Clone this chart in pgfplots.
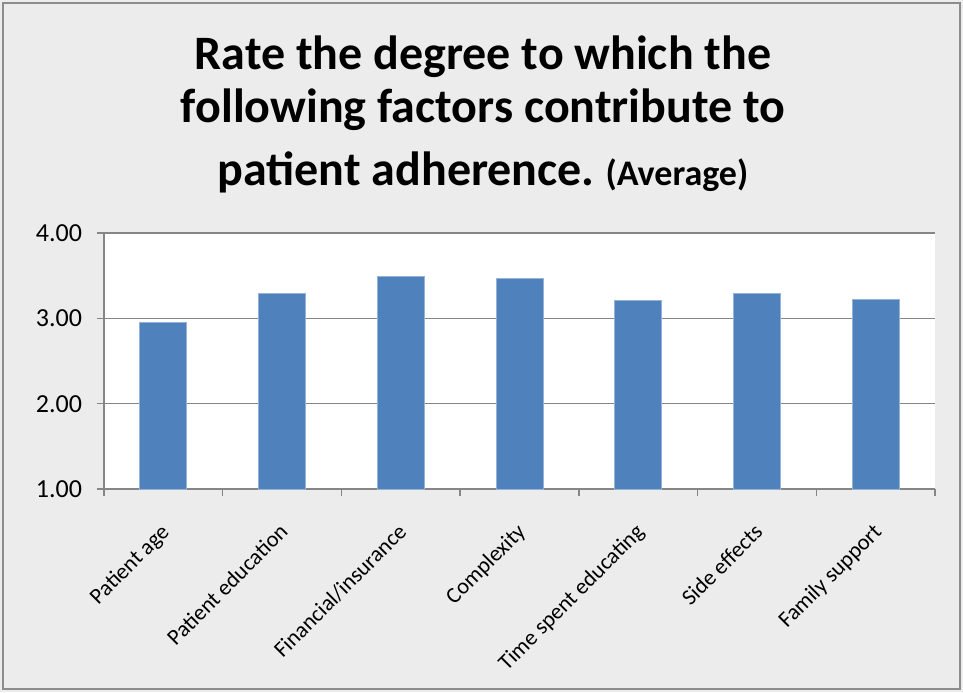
\documentclass[border=0pt]{standalone}
\usepackage{pgfplots}
\pgfplotsset{compat=1.18}
\usepackage{fontspec}
\setmainfont{Carlito}
\frenchspacing
\definecolor{barblue}{HTML}{4F81BD}
\definecolor{baredge}{HTML}{95B3D7}
\definecolor{axisgray}{HTML}{868686}
\definecolor{panelgray}{HTML}{ECECEC}
\definecolor{framegray}{HTML}{8C8C8C}

\begin{document}
\begin{tikzpicture}
% chart panel and its frame
\fill[panelgray] (-78pt,-152.25pt) rectangle (644.25pt,366.75pt);
\draw[framegray, line width=1.5pt] (-75.75pt,-150pt) rectangle (642pt,364.5pt);

\begin{axis}[
  at={(0pt,0pt)}, anchor=south west,
  scale only axis, width=623.25pt, height=192pt,
  xmin=-0.5, xmax=6.5, ymin=1, ymax=4,
  ytick={1,2,3,4}, yticklabels={1.00,2.00,3.00,4.00},
  xtick={-0.5,0.5,1.5,2.5,3.5,4.5,5.5,6.5}, xticklabels={},
  extra x ticks={0,1,2,3,4,5,6},
  extra x tick labels={Patient age,Patient education,Financial/insurance,Complexity,Time spent educating,Side effects,Family support},
  extra x tick style={major tick length=0pt,
    tick label style={font=\fontsize{16.8}{20}\selectfont,
      xshift=-3pt, yshift=-20pt, rotate=45, anchor=north east}},
  axis lines*=left,
  axis line style={axisgray, line width=1.1pt},
  ymajorgrids, grid style={axisgray, line width=1.1pt},
  tick style={axisgray, line width=1.1pt},
  tick align=outside, major tick length=5pt,
  axis background/.style={fill=white},
  tick label style={text=black},
  yticklabel style={font=\fontsize{19.5}{22}\selectfont, xshift=-8pt},
  ybar, bar width=35.25pt,
]
\addplot[fill=barblue, draw=baredge, line width=0.6pt]
  coordinates {(0,2.95) (1,3.29) (2,3.49) (3,3.47) (4,3.21) (5,3.29) (6,3.22)};
\end{axis}

% title
\node[anchor=base, font=\fontsize{36}{43}\selectfont\bfseries] at (284.25pt,314.25pt) {Rate the degree to which the};
\node[anchor=base, font=\fontsize{36}{43}\selectfont\bfseries] at (284.25pt,274.5pt) {following factors contribute to};
\node[anchor=base, font=\fontsize{36}{43}\selectfont\bfseries] at (284.25pt,227.25pt) {patient adherence. {\fontsize{27}{30}\selectfont(Average)}};
\end{tikzpicture}
\end{document}
